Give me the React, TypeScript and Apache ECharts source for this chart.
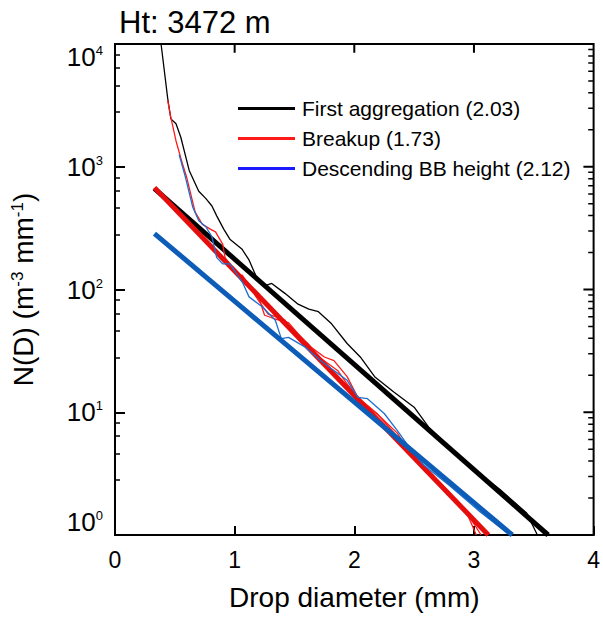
import React, { useEffect, useRef } from "react";
import * as echarts from "echarts";

const FONT = "'Liberation Sans', Arial, Helvetica, sans-serif";

const titleText = "Ht: 3472 m";
const legendNames = ["First aggregation (2.03)", "Breakup (1.73)", "Descending BB height (2.12)"];

// thin observed spectra [diameter mm, N(D)]
const firstAggThin: [number, number][] = [
  [0.385, 10000], [0.44, 3630], [0.467, 2455], [0.51, 2240], [0.55, 1740], [0.62, 933],
  [0.70, 631], [0.76, 550], [0.81, 479], [0.85, 398], [0.91, 309], [0.96, 257],
  [1.06, 214], [1.12, 174], [1.20, 115], [1.25, 107], [1.31, 112], [1.42, 93],
  [1.53, 75.9], [1.62, 69.2], [1.70, 66], [1.81, 52.5], [1.94, 36.3], [2.05, 28.2],
  [2.17, 19.5], [2.33, 14.6], [2.50, 11.0], [2.62, 7.6], [2.94, 3.80], [3.22, 2.34],
  [3.44, 1.51], [3.53, 1.0],
];
const breakupThin: [number, number][] = [
  [0.44, 3467], [0.467, 2512], [0.51, 1622], [0.565, 1047], [0.60, 813], [0.67, 427],
  [0.73, 339], [0.80, 309], [0.84, 295], [0.90, 234], [0.92, 182], [0.98, 151],
  [1.06, 126], [1.20, 87.1], [1.25, 61.7], [1.34, 57.5], [1.45, 53.7], [1.53, 43.7],
  [1.64, 33.9], [1.75, 28.2], [1.83, 26.3], [1.94, 19.5], [2.03, 13.2], [2.22, 9.12],
  [2.36, 6.76], [2.47, 4.57], [2.58, 3.39], [2.75, 2.34], [2.94, 1.51], [3.02, 1.0],
];
const breakupThin2: [number, number][] = [
  [1.06, 132], [1.20, 81.3], [1.28, 63.1], [1.42, 56.2], [1.50, 43.7], [1.61, 36.3],
  [1.72, 27.5], [1.86, 21.9], [1.94, 17.0], [2.03, 13.2], [2.19, 9.77], [2.36, 6.31],
  [2.58, 3.55], [2.80, 2.19], [2.98, 1.32], [3.06, 1.0],
];
const descendThin: [number, number][] = [
  [0.536, 1259], [0.59, 813], [0.65, 468], [0.70, 363], [0.76, 324], [0.81, 269],
  [0.85, 182], [0.90, 162], [0.96, 162], [1.07, 112], [1.12, 87.1], [1.23, 72.4],
  [1.34, 56.2], [1.39, 39.8], [1.45, 40.7], [1.59, 33.9], [1.72, 26.3], [1.94, 18.2],
  [2.03, 13.2], [2.11, 12.9], [2.25, 9.77], [2.36, 7.08], [2.47, 5.01], [2.58, 3.72],
  [2.80, 2.51], [3.05, 1.55], [3.30, 1.0],
];

// fitted exponential lines (straight on log axis)
const firstAggFit: [number, number][] = [[0.33, 663], [3.62, 1]];
const breakupFit: [number, number][] = [[0.33, 676], [3.12, 1]];
const descendFit: [number, number][] = [[0.33, 285], [3.32, 1]];

// ticks mirrored on the top and right frame
const xMajorTicks = [1, 2, 3];
const yMajorTicks = [10, 100, 1000];
const minorMantissas = [2, 3, 4, 5, 6, 7, 8, 9];
const decades = [1, 10, 100, 1000];
const yMinorTicks: number[] = [];
decades.forEach((d) => minorMantissas.forEach((m) => yMinorTicks.push(m * d)));

const X_MIN = 0;
const X_MAX = 4;
const Y_MIN = 1;
const Y_MAX = 10000;
const MINOR_LEN_X = 0.045; // x data units (~5 px)
const MAJOR_LEN_X = 0.085; // x data units (~10 px)
const TICK_FACTOR_Y = 1.18; // log-axis factor (~9 px)

export default function App() {
  const ref = useRef<HTMLDivElement>(null);
  useEffect(() => {
    document.body.style.margin = "0";
    const chart = echarts.init(ref.current!, null, { renderer: "svg" });
    const GAP: any = ["-", "-"];
    const minorSeg: any[] = [];
    yMinorTicks.forEach((v) => {
      minorSeg.push([X_MAX - MINOR_LEN_X, v], [X_MAX, v], GAP);
    });
    const majorSeg: any[] = [];
    yMajorTicks.forEach((v) => {
      majorSeg.push([X_MAX - MAJOR_LEN_X, v], [X_MAX, v], GAP);
    });
    xMajorTicks.forEach((x) => {
      majorSeg.push([x, Y_MAX / TICK_FACTOR_Y], [x, Y_MAX], GAP);
    });
    chart.setOption({
      animation: false,
      title: {
        text: titleText,
        left: 114,
        top: 2,
        textStyle: { fontSize: 31, fontWeight: "normal", color: "#000", fontFamily: FONT },
      },
      legend: {
        orient: "vertical",
        left: 233,
        top: 91,
        icon: "rect",
        itemWidth: 57,
        itemHeight: 3,
        itemGap: 5,
        textStyle: { fontSize: 21, lineHeight: 25, color: "#000", fontFamily: FONT, padding: [0, 0, 0, 2] },
        data: [
          { name: legendNames[0], itemStyle: { color: "#000000" } },
          { name: legendNames[1], itemStyle: { color: "#ff1a1a" } },
          { name: legendNames[2], itemStyle: { color: "#1a1aff" } },
        ],
      },
      grid: { left: 115, right: 5, top: 44, bottom: 86, show: true, borderColor: "#000", borderWidth: 2 },
      xAxis: {
        type: "value",
        min: X_MIN,
        max: X_MAX,
        interval: 1,
        name: "Drop diameter (mm)",
        nameLocation: "middle",
        nameGap: 48,
        nameTextStyle: { fontSize: 28, color: "#000", fontFamily: FONT },
        axisLine: { show: true, lineStyle: { color: "#000", width: 2 } },
        axisTick: { show: true, inside: true, length: 9, lineStyle: { color: "#000", width: 2 } },
        axisLabel: { fontSize: 23, color: "#000", fontFamily: FONT, margin: 13 },
        splitLine: { show: false },
      },
      yAxis: {
        type: "log",
        logBase: 10,
        min: Y_MIN,
        max: Y_MAX,
        name: "N(D) (m{s|-3} mm{s|-1})",
        nameLocation: "middle",
        nameRotate: 90,
        nameGap: 78,
        nameTextStyle: {
          fontSize: 28,
          color: "#000",
          fontFamily: FONT,
          rich: {
            s: { fontSize: 17, fontFamily: FONT, color: "#000", verticalAlign: "top" },
          },
        },
        axisLine: { show: true, lineStyle: { color: "#000", width: 2 } },
        axisTick: { show: true, inside: true, length: 10, lineStyle: { color: "#000", width: 2 } },
        minorTick: { show: true, length: 5, lineStyle: { color: "#000", width: 1.5 } },
        minorSplitLine: { show: false },
        axisLabel: {
          margin: 12,
          fontSize: 26,
          fontFamily: FONT,
          color: "#000",
          verticalAlignMinLabel: "bottom",
          verticalAlignMaxLabel: "top",
          formatter: (v: number) => "{base|10}{sup|" + Math.round(Math.log10(v)) + "}",
          rich: {
            base: { fontSize: 26, fontFamily: FONT, color: "#000" },
            sup: { fontSize: 13, fontFamily: FONT, color: "#000", verticalAlign: "top" },
          },
        },
        splitLine: { show: false },
      },
      series: [
        {
          name: "minorTicksRight",
          type: "line",
          data: minorSeg,
          showSymbol: false,
          lineStyle: { color: "#000", width: 1.5 },
        },
        {
          name: "majorTicksMirror",
          type: "line",
          data: majorSeg,
          showSymbol: false,
          lineStyle: { color: "#000", width: 2 },
        },
        {
          name: legendNames[0],
          type: "line",
          data: firstAggThin,
          showSymbol: false,
          lineStyle: { color: "#000", width: 1.3 },
          itemStyle: { color: "#000" },
        },
        {
          name: "fit1",
          type: "line",
          data: firstAggFit,
          showSymbol: false,
          lineStyle: { color: "#000", width: 5 },
        },
        {
          name: legendNames[1],
          type: "line",
          data: breakupThin,
          showSymbol: false,
          lineStyle: { color: "#ff1a1a", width: 1.3 },
          itemStyle: { color: "#ff1a1a" },
        },
        {
          name: "breakup2",
          type: "line",
          data: breakupThin2,
          showSymbol: false,
          lineStyle: { color: "#ff1a1a", width: 1.3 },
        },
        {
          name: "fit2",
          type: "line",
          data: breakupFit,
          showSymbol: false,
          lineStyle: { color: "#e60d0d", width: 5 },
        },
        {
          name: legendNames[2],
          type: "line",
          data: descendThin,
          showSymbol: false,
          lineStyle: { color: "#1f6fd1", width: 1.3 },
          itemStyle: { color: "#1f6fd1" },
        },
        {
          name: "fit3",
          type: "line",
          data: descendFit,
          showSymbol: false,
          lineStyle: { color: "#0c5cb8", width: 5 },
        },
      ],
    });
    return () => chart.dispose();
  }, []);
  return <div ref={ref} style={{ width: 603, height: 621 }} />;
}
